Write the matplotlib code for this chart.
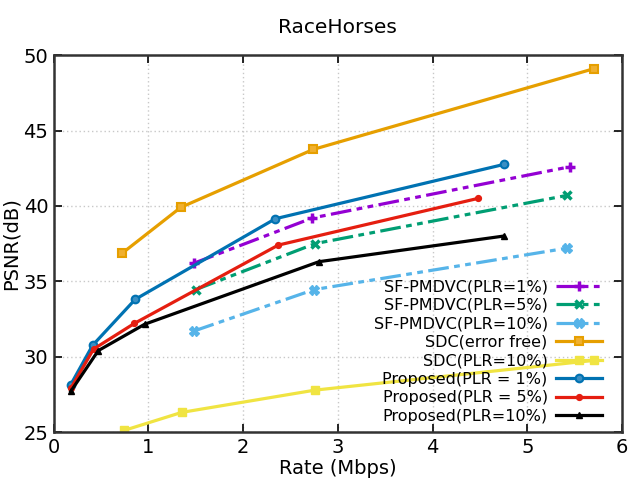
import matplotlib
matplotlib.use("Agg")
import matplotlib.pyplot as plt

title = "RaceHorses"
xlabel = "Rate (Mbps)"
ylabel = "PSNR(dB)"

sf1_x = [1.48, 2.73, 5.45]
sf1_y = [36.2, 39.2, 42.6]
sf5_x = [1.50, 2.76, 5.42]
sf5_y = [34.45, 37.5, 40.7]
sf10_x = [1.48, 2.75, 5.42]
sf10_y = [31.7, 34.45, 37.2]
sdc_ef_x = [0.72, 1.34, 2.74, 5.70]
sdc_ef_y = [36.85, 39.9, 43.75, 49.1]
sdc10_x = [0.74, 1.35, 2.76, 5.70]
sdc10_y = [25.1, 26.3, 27.78, 29.75]
p1_x = [0.18, 0.41, 0.86, 2.34, 4.75]
p1_y = [28.15, 30.75, 33.8, 39.15, 42.75]
p5_x = [0.18, 0.42, 0.85, 2.37, 4.48]
p5_y = [27.9, 30.5, 32.2, 37.4, 40.5]
p10_x = [0.18, 0.47, 0.96, 2.80, 4.75]
p10_y = [27.7, 30.4, 32.15, 36.3, 38.0]

fig = plt.figure(figsize=(6.4, 4.8), dpi=100)
ax = fig.add_axes([0.084, 0.1, 0.888, 0.785])

dash = (0, (6.5, 1.7, 1.8, 1.7, 1.8, 1.7))
lw = 2.3
ax.plot(sf1_x, sf1_y, color="#9400D3", lw=lw, linestyle=dash, marker="+", ms=7, mew=2.5,
        label="SF-PMDVC(PLR=1%)")
ax.plot(sf5_x, sf5_y, color="#009E73", lw=lw, linestyle=dash, marker="x", ms=5.5, mew=2.5,
        label="SF-PMDVC(PLR=5%)")
ax.plot(sf10_x, sf10_y, color="#56B4E9", lw=lw, linestyle=dash, marker="X", ms=6.5, mew=1,
        label="SF-PMDVC(PLR=10%)")
ax.plot(sdc_ef_x, sdc_ef_y, color="#E69F00", lw=lw, marker="s", ms=6, mfc="#F0B030", mew=1.5,
        label="SDC(error free)")
ax.plot(sdc10_x, sdc10_y, color="#F0E442", lw=lw, marker="s", ms=5.5, mew=1,
        label="SDC(PLR=10%)")
ax.plot(p1_x, p1_y, color="#0072B2", lw=lw, marker="o", ms=5.5, mfc="#3A8FC4", mew=1.5,
        label="Proposed(PLR = 1%)")
ax.plot(p5_x, p5_y, color="#E51E10", lw=lw, marker="o", ms=4.2,
        label="Proposed(PLR = 5%)")
ax.plot(p10_x, p10_y, color="black", lw=lw, marker="^", ms=5,
        label="Proposed(PLR=10%)")

ax.set_xlim(0, 6)
ax.set_ylim(25, 50)
ax.set_xticks([0, 1, 2, 3, 4, 5, 6])
ax.set_yticks([25, 30, 35, 40, 45, 50])
ax.grid(True, color="#c8c8c8", linestyle=(0, (1, 2)), lw=1)
ax.tick_params(direction="in", top=True, right=True, length=6, width=1.2,
               labelsize=14, pad=4)
for s in ax.spines.values():
    s.set_linewidth(1.8)
    s.set_color("#333333")
ax.set_xlabel(xlabel, fontsize=14, labelpad=2)
ax.set_ylabel(ylabel, fontsize=14, labelpad=2)
ax.set_title(title, fontsize=14.5, pad=16)

leg = ax.legend(loc="lower right", markerfirst=False, frameon=False, fontsize=11.5,
                handlelength=2.9, labelspacing=0.22, borderaxespad=0.0,
                handletextpad=0.5, bbox_to_anchor=(0.976, 0.005))
for t in leg.get_texts():
    t.set_ha("right")

fig.savefig("out.png", dpi=100)
